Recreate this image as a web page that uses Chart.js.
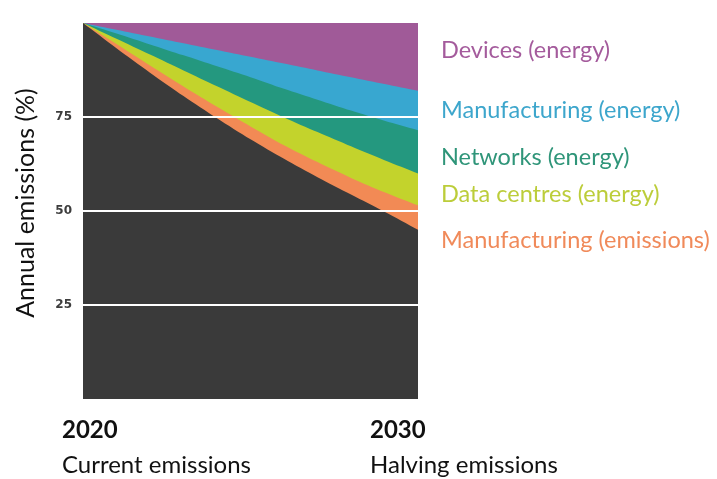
<!DOCTYPE html>
<html>
<head>
<meta charset="utf-8">
<script src="https://cdn.jsdelivr.net/npm/chart.js@4/dist/chart.umd.min.js"></script>
<style>
  html, body { margin: 0; padding: 0; background: #fff; }
  #wrap { width: 717px; height: 479px; }
</style>
</head>
<body>
<div id="wrap"><canvas id="grafico"></canvas></div>
<script>
// years on the x axis
const years = [2020, 2021, 2022, 2023, 2024, 2025, 2026, 2027, 2028, 2029, 2030];

// share of annual emissions (%), stacked from the bottom up
const restante = [100, 93.3, 86.8, 80.6, 74.7, 69.1, 63.9, 59.0, 54.4, 49.8, 45.0];
const fabricacionEmisiones = [0, 1.1, 1.9, 2.5, 3.0, 3.4, 3.6, 4.0, 4.4, 5.2, 6.5];
const centrosDatos = [0, 1.4, 2.9, 4.3, 5.5, 6.5, 7.4, 8.0, 8.4, 8.5, 8.5];
const redes = [0, 1.4, 2.7, 4.0, 5.3, 6.6, 7.6, 8.6, 9.5, 10.5, 11.5];
const fabricacionEnergia = [0, 1.0, 2.1, 3.2, 4.3, 5.4, 6.7, 7.8, 8.9, 9.8, 10.5];
const dispositivos = [0, 1.8, 3.6, 5.4, 7.2, 9.0, 10.8, 12.6, 14.4, 16.2, 18.0];

const yTicks = [25, 50, 75];

// labels under the axis
const bottomLabels = [
    { year: "2020", text: "Current emissions", dx: -21 },
    { year: "2030", text: "Halving emissions", dx: -48 }
];

// labels on the right, top to bottom
const seriesLabels = [
    { text: "Devices (energy)", color: "#a45b9c", y: 50 },
    { text: "Manufacturing (energy)", color: "#3da6cc", y: 110 },
    { text: "Networks (energy)", color: "#2f9579", y: 157 },
    { text: "Data centres (energy)", color: "#bccd3a", y: 194 },
    { text: "Manufacturing (emissions)", color: "#f08a5a", y: 240 }
];

const FONT = "Lato";

const textPlugin = {
    id: "textPlugin",
    afterDraw(chart) {
        const ctx = chart.ctx;
        const xs = chart.scales.x;
        ctx.save();
        ctx.textBaseline = "alphabetic";
        ctx.textAlign = "left";
        bottomLabels.forEach((l, i) => {
            const x = xs.getPixelForValue(i === 0 ? 0 : years.length - 1) + l.dx;
            ctx.fillStyle = "#111";
            ctx.font = "bold 24px " + FONT;
            ctx.fillText(l.year, x, 438);
            ctx.font = "24px " + FONT;
            ctx.fillText(l.text, x, 473);
        });
        ctx.font = "23.5px " + FONT;
        seriesLabels.forEach(l => {
            ctx.fillStyle = l.color;
            ctx.textBaseline = "middle";
            ctx.fillText(l.text, chart.chartArea.right + 23, l.y);
        });
        // titulo del eje y
        ctx.translate(26, 203);
        ctx.rotate(-Math.PI / 2);
        ctx.textAlign = "center";
        ctx.textBaseline = "middle";
        ctx.fillStyle = "#111";
        ctx.font = "25px " + FONT;
        ctx.fillText("Annual emissions (%)", 0, 0);
        ctx.restore();
    }
};

function serie(label, data, color) {
    return {
        label: label,
        data: data,
        backgroundColor: color,
        borderColor: color,
        borderWidth: 0,
        pointRadius: 0,
        fill: true,
        tension: 0.3
    };
}

document.addEventListener("DOMContentLoaded", () => {
    const ctx = document.getElementById("grafico").getContext("2d");
    new Chart(ctx, {
        type: "line",
        data: {
            labels: years,
            datasets: [
                serie("Remaining", restante, "#3a3a3a"),
                serie("Manufacturing (emissions)", fabricacionEmisiones, "#f28a55"),
                serie("Data centres (energy)", centrosDatos, "#c3d32c"),
                serie("Networks (energy)", redes, "#24987f"),
                serie("Manufacturing (energy)", fabricacionEnergia, "#38a7d0"),
                serie("Devices (energy)", dispositivos, "#a05a98")
            ]
        },
        options: {
            responsive: true,
            maintainAspectRatio: false,
            animation: false,
            layout: { padding: { top: 23, right: 299, bottom: 80, left: 0 } },
            plugins: { legend: { display: false }, tooltip: { enabled: false } },
            scales: {
                x: { display: false },
                y: {
                    stacked: true,
                    min: 0,
                    max: 100,
                    afterFit(scale) { scale.width = 83; },
                    afterBuildTicks(scale) { scale.ticks = yTicks.map(v => ({ value: v })); },
                    border: { display: false },
                    grid: { color: "#ffffff", lineWidth: 2, drawTicks: false, z: 1 },
                    ticks: {
                        padding: 11,
                        color: "#3d3d3d",
                        font: { family: "DejaVu Sans", size: 12, weight: "bold" }
                    }
                }
            }
        },
        plugins: [textPlugin]
    });
});
</script>
</body>
</html>
